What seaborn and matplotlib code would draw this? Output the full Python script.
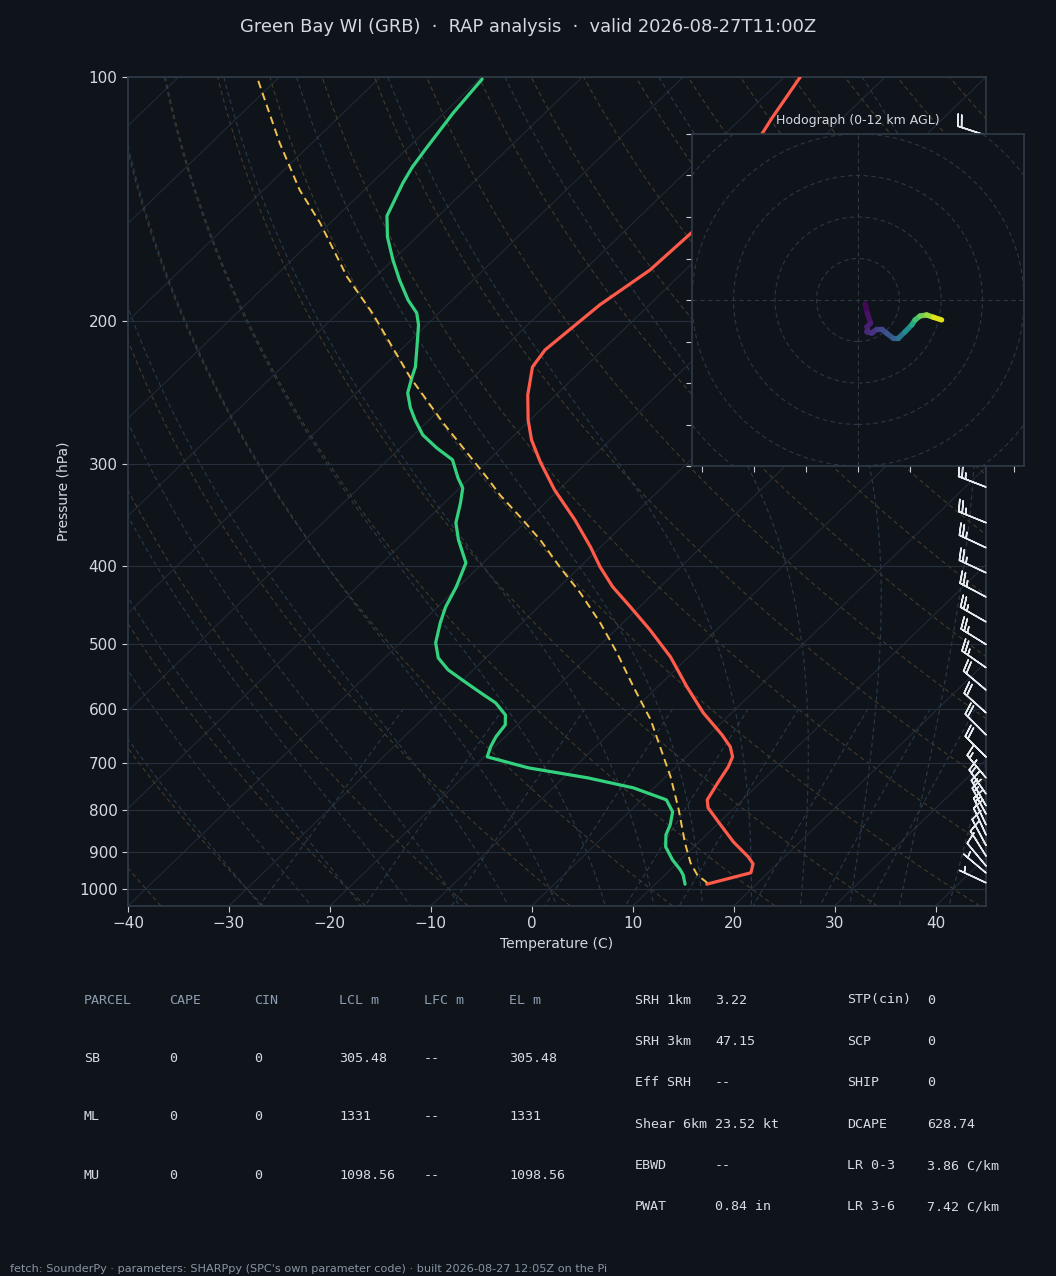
import numpy as np
import matplotlib
matplotlib.use("Agg")
import matplotlib.pyplot as plt
from matplotlib.collections import LineCollection
from matplotlib.patches import Circle
from matplotlib.ticker import ScalarFormatter, NullLocator
import seaborn as sns

# --- sounding (hPa, degC) ---
temp_pres = [100, 112.3, 117.2, 155.2, 172.9, 190.9, 216.9, 227.6, 246.4, 264.5, 280, 297.9,
             322.6, 351.3, 379.2, 401.3, 424.7, 449.5, 479.8, 518, 563.9, 607.2, 646.2, 668.6,
             687.8, 707.6, 740.5, 777, 794.8, 834.3, 875.4, 913.3, 931.6, 955.6, 987]
temp_c = [-58.4, -57.0, -56.4, -53.2, -53.5, -54.9, -55.7, -55.2, -52.8, -50.2, -47.8, -44.7,
          -40.4, -35.3, -31.0, -28.0, -24.7, -20.9, -16.6, -11.8, -7.1, -2.8, 1.3, 3.35,
          4.6, 5.2, 5.8, 6.5, 7.4, 10.4, 13.4, 16.4, 17.6, 18.3, 15.1]

dwpt_pres = [100.6, 110.7, 123.0, 129.1, 135.1, 148.3, 157.4, 168.0, 177.8, 188.2, 195.3, 202.0,
             215.0, 227.6, 234.2, 245.0, 255.6, 264.5, 276.0, 286.3, 296.2, 311.8, 320.8, 334.6,
             354.2, 371.7, 396.8, 424.7, 449.5, 470.3, 497.8, 519.5, 537.4, 556.0, 573.7, 590.2,
             610.7, 628.1, 649.8, 668.6, 687.8, 709.6, 730.0, 751.0, 777, 803.9, 834.3, 858.2,
             887.8, 921.0, 947.5, 961.2, 987]
dwpt_c = [-89.7, -89.1, -88.1, -87.6, -86.9, -85.1, -82.9, -80.0, -77.3, -74.4, -72.2, -70.8,
          -68.7, -66.8, -66.1, -64.9, -63.1, -61.4, -59.1, -56.4, -53.6, -51.2, -49.7, -48.4,
          -46.8, -44.8, -41.7, -40.2, -39.2, -38.1, -36.5, -34.7, -32.5, -29.6, -26.9, -24.4,
          -22.2, -21.2, -20.9, -20.4, -19.7, -14.5, -7.6, -2.05, 2.45, 4.3, 5.4, 6.0,
          7.2, 9.2, 11.0, 11.8, 12.95]

parcel_pres = [101.1, 120.6, 137.8, 151.3, 176.3, 195.3, 234.2, 266.8, 311.8, 327.2, 348.2,
               371.7, 401.3, 432.0, 470.3, 512.2, 563.9, 619.3, 668.6, 727.8, 799.3, 877.8,
               929.0, 961.2, 983.1]
parcel_c = [-111.7, -103.2, -96.4, -91.0, -82.8, -76.6, -66.3, -58.3, -48.3, -45.3, -41.05,
            -36.7, -32.0, -27.3, -22.25, -17.5, -12.4, -7.3, -3.6, 0.5, 4.7, 8.7,
            11.3, 13.2, 15.0]

# wind barbs (kt)
barb_pres = [118, 126, 136, 146, 156, 168, 180, 194, 208, 223, 240, 257, 276, 296,
             320, 354, 380, 408, 437, 469, 500, 534, 569, 607, 646, 688,
             730, 764, 790, 809, 834, 858, 884, 911, 937, 956, 983]
barb_u = [19.0, 22, 25, 28, 31, 34, 36, 37, 37, 35, 32, 29, 27, 25,
          23.3, 23.2, 22.7, 22.7, 22.1, 21.7, 21.2, 20.5, 15.3, 14.9, 14.1, 14.1,
          9.6, 8.6, 7.5, 7.0, 6.3, 4.2, 4.7, 5.3, 6.4, 3.8, 4.5]
barb_v = [-6.2, -7, -8, -8, -9, -9, -9, -9, -9, -9, -9, -9, -9, -9,
          -9.0, -9.4, -10.6, -10.6, -11.7, -12.5, -13.2, -14.3, -12.9, -13.4, -14.1, -14.1,
          -11.5, -12.3, -13.0, -13.2, -13.6, -9.1, -8.8, -8.5, -7.7, -3.2, -2.1]

# hodograph 0-12 km (kt, km)
hodo_u = [3.4, 4.5, 6.1, 4.2, 4.2, 6.6, 9.0, 11.4, 13.8, 17.0, 19.4, 22.7, 25.9, 27.5, 29.9, 33.1, 36.3, 40.3]
hodo_v = [-1.9, -6.4, -11.2, -12.9, -15.3, -16.0, -14.1, -14.1, -16.0, -18.5, -18.5, -15.3, -12.0, -9.6, -7.7, -7.2, -8.3, -9.6]
hodo_z = [0, 0.4, 0.8, 1.0, 1.2, 1.6, 2.0, 2.4, 2.9, 3.4, 4.0, 5.2, 6.6, 8.0, 9.0, 9.8, 10.8, 12.0]

# parameter tables
parcel_cols = ["PARCEL", "CAPE", "CIN", "LCL m", "LFC m", "EL m"]
parcel_rows = [["SB", "0", "0", "305.48", "--", "305.48"],
               ["ML", "0", "0", "1331", "--", "1331"],
               ["MU", "0", "0", "1098.56", "--", "1098.56"]]
kin_labels = ["SRH 1km", "SRH 3km", "Eff SRH", "Shear 6km", "EBWD", "PWAT"]
kin_values = ["3.22", "47.15", "--", "23.52 kt", "--", "0.84 in"]
comp_labels = ["STP(cin)", "SCP", "SHIP", "DCAPE", "LR 0-3", "LR 3-6"]
comp_values = ["0", "0", "0", "628.74", "3.86 C/km", "7.42 C/km"]

BG = "#0f141b"
FG = "#d5d9df"
P_BOT, P_TOP = 1050.0, 100.0

sns.set_theme(style="dark", rc={
    "figure.facecolor": BG, "axes.facecolor": BG, "savefig.facecolor": BG,
    "axes.edgecolor": "#2e3946", "axes.labelcolor": FG, "text.color": FG,
    "xtick.color": FG, "ytick.color": FG, "xtick.bottom": True, "ytick.left": True,
    "axes.grid": False, "axes.unicode_minus": True,
})
plt.rcParams["font.family"] = ["DejaVu Sans"]


def skew(t, p):
    # 45 degree skew in axes space: full 85 C of x range across 1050->100 hPa
    t = np.asarray(t, dtype=float)
    p = np.asarray(p, dtype=float)
    return t + 85.0 * np.log(P_BOT / p) / np.log(P_BOT / P_TOP)


def moist_adiabat(t0c, pres):
    # integrate pseudo-adiabatic lapse rate from 1000 hPa
    Rd, Cp, Lv, eps = 287.04, 1005.7, 2.501e6, 0.622

    def dtdp(T, p):
        es = 6.112 * np.exp(17.67 * (T - 273.15) / (T - 29.65))
        rs = eps * es / (p - es)
        return (Rd * T + Lv * rs) / (Cp + Lv ** 2 * rs * eps / (Rd * T ** 2)) / p

    out = {}
    for direction in (np.linspace(1000, pres.min(), 200), np.linspace(1000, pres.max(), 20)):
        T = t0c + 273.15
        out[direction[0]] = T
        for a, b in zip(direction[:-1], direction[1:]):
            h = b - a
            k1 = dtdp(T, a)
            k2 = dtdp(T + h * k1 / 2, a + h / 2)
            k3 = dtdp(T + h * k2 / 2, a + h / 2)
            k4 = dtdp(T + h * k3, b)
            T = T + h * (k1 + 2 * k2 + 2 * k3 + k4) / 6
            out[b] = T
    ps = np.array(sorted(out))
    return ps, np.array([out[k] for k in ps]) - 273.15


fig = plt.figure(figsize=(10.56, 12.76), dpi=100)
ax = fig.add_axes([128 / 1056, 1 - 906 / 1276, 858 / 1056, 829 / 1276])

pl = np.geomspace(P_BOT, P_TOP, 120)

# isotherms
for t0 in range(-170, 50, 10):
    ax.plot(skew(np.full_like(pl, t0), pl), pl, color="#212a35", lw=0.8, zorder=1)
# dry adiabats
for t0 in range(-40, 201, 10):
    tk = (t0 + 273.15) * (pl / 1000.0) ** 0.2857 - 273.15
    ax.plot(skew(tk, pl), pl, color="#433a2b", lw=0.8, ls=(0, (4, 3)), zorder=1)
# moist adiabats
for t0 in range(-30, 46, 5):
    ps, tm = moist_adiabat(float(t0), pl)
    ax.plot(skew(tm, ps), ps, color="#293a4a", lw=0.8, ls=(0, (4, 3)), zorder=1)
# mixing ratio lines
pm = np.linspace(600, P_BOT, 50)
for w in [0.0004, 0.001, 0.002, 0.004, 0.007, 0.01, 0.016, 0.024, 0.032]:
    e = pm * w / (0.622 + w)
    lg = np.log(e / 6.112)
    td = 243.5 * lg / (17.67 - lg)
    ax.plot(skew(td, pm), pm, color="#293a4a", lw=0.8, ls=(0, (4, 3)), zorder=1)

for p in range(100, 1001, 100):
    ax.axhline(p, color="#25303c", lw=0.8, zorder=1)

sns.lineplot(x=skew(temp_c, temp_pres), y=temp_pres, sort=False, estimator=None,
             color="#ff5a4a", lw=2.3, ax=ax, zorder=4)
sns.lineplot(x=skew(dwpt_c, dwpt_pres), y=dwpt_pres, sort=False, estimator=None,
             color="#34d27e", lw=2.3, ax=ax, zorder=4)
sns.lineplot(x=skew(parcel_c, parcel_pres), y=parcel_pres, sort=False, estimator=None,
             color="#f2c24c", lw=1.4, ls=(0, (4, 2.5)), ax=ax, zorder=4)

ax.barbs(np.full(len(barb_pres), 45.0), barb_pres, barb_u, barb_v, length=6.5,
         color="#e6e9ee", linewidth=1.1, clip_on=False, zorder=5)

ax.set_yscale("log")
ax.set_ylim(P_BOT, P_TOP)
ax.set_xlim(-40, 45)
ax.set_yticks(range(100, 1001, 100))
ax.yaxis.set_major_formatter(ScalarFormatter())
ax.yaxis.set_minor_locator(NullLocator())
ax.set_xticks(range(-40, 41, 10))
ax.tick_params(labelsize=11, length=4, width=0.8, color="#c9cdd3")
ax.set_xlabel("Temperature (C)", fontsize=10)
ax.set_ylabel("Pressure (hPa)", fontsize=10, labelpad=6)
for s in ax.spines.values():
    s.set_color("#2e3946")

# hodograph inset
hx = fig.add_axes([692 / 1056, 1 - 466 / 1276, 332 / 1056, 332 / 1276])
hx.set_facecolor(BG)
for r in range(20, 121, 20):
    hx.add_patch(Circle((0, 0), r, fill=False, ec="#2b3744", lw=0.8, ls=(0, (4, 3))))
hx.axhline(0, color="#2b3744", lw=0.8, ls=(0, (4, 3)))
hx.axvline(0, color="#2b3744", lw=0.8, ls=(0, (4, 3)))
pts = np.column_stack([hodo_u, hodo_v])
segs = np.stack([pts[:-1], pts[1:]], axis=1)
zmid = 0.5 * (np.array(hodo_z[:-1]) + np.array(hodo_z[1:]))
lc = LineCollection(segs, cmap="viridis", norm=plt.Normalize(0, 12), lw=3.8, capstyle="round")
lc.set_array(zmid)
hx.add_collection(lc)
hx.set_xlim(-80, 80)
hx.set_ylim(-80, 80)
hx.set_xticks(range(-75, 76, 25))
hx.set_yticks(range(-80, 81, 20))
hx.set_xticklabels([])
hx.set_yticklabels([])
hx.tick_params(length=4, width=0.8, color="#c9cdd3")
for s in hx.spines.values():
    s.set_color("#2e3946")
hx.set_title("Hodograph (0-12 km AGL)", fontsize=9, color=FG, pad=7)

fig.text(0.5, 1 - 27 / 1276, "Green Bay WI (GRB)  \u00b7  RAP analysis  \u00b7  valid 2026-08-27T11:00Z",
         ha="center", va="center", fontsize=12.9, color=FG)

mono = "DejaVu Sans Mono"
col_x = [84, 169, 254, 339, 424, 509]
row_y = [1000, 1058.5, 1117, 1175.5]
for cx, head in zip(col_x, parcel_cols):
    fig.text(cx / 1056, 1 - row_y[0] / 1276, head, family=mono, fontsize=9.6,
             color="#8d9db0", va="center")
for ry, row in zip(row_y[1:], parcel_rows):
    for cx, val in zip(col_x, row):
        fig.text(cx / 1056, 1 - ry / 1276, val, family=mono, fontsize=9.6,
                 color="#d8dce2", va="center")

for i in range(6):
    y = 1 - (1000 + i * 41.4) / 1276
    fig.text(635 / 1056, y, kin_labels[i], family=mono, fontsize=9.6, color="#d8dce2", va="center")
    fig.text(715 / 1056, y, kin_values[i], family=mono, fontsize=9.6, color="#d8dce2", va="center")
    fig.text(847 / 1056, y, comp_labels[i], family=mono, fontsize=9.6, color="#d8dce2", va="center")
    fig.text(927 / 1056, y, comp_values[i], family=mono, fontsize=9.6, color="#d8dce2", va="center")

fig.text(10 / 1056, 1 - 1269 / 1276,
         "fetch: SounderPy \u00b7 parameters: SHARPpy (SPC's own parameter code) \u00b7 built 2026-08-27 12:05Z on the Pi",
         fontsize=8.1, color="#8794a3", va="center")

fig.savefig("out.png", dpi=100, facecolor=BG)
